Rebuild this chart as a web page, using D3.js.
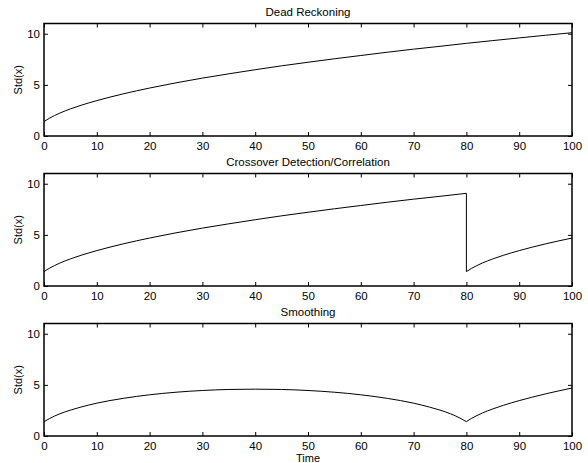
<!DOCTYPE html>
<html>
<head>
<meta charset="utf-8">
<script src="https://cdn.jsdelivr.net/npm/d3@7"></script>
<style>
  body { margin: 0; background: #fff; }
  text { font-family: "Liberation Sans", Arial, sans-serif; }
</style>
</head>
<body>
<script>
const width = 588;
const height = 463;

// panel titles
const titles = ["Dead Reckoning", "Crossover Detection/Correlation", "Smoothing"];
const xTicks = [0, 10, 20, 30, 40, 50, 60, 70, 80, 90, 100];
const yTicks = [0, 5, 10];

// time samples
const tGrow = [0, 1, 2, 3, 5, 7, 10, 15, 20, 25, 30, 35, 40, 45, 50, 55, 60, 65, 70, 75, 80];
const tTail = [80, 81, 82, 83, 85, 87, 90, 95, 100];
const tFull = [0, 1, 2, 3, 5, 7, 10, 15, 20, 25, 30, 35, 40, 45, 50, 55, 60, 65, 70, 75, 80, 85, 90, 95, 100];

// dead reckoning std, 0..100
const deadStd = [1.41, 1.73, 2.0, 2.24, 2.65, 3.0, 3.46, 4.12, 4.69, 5.2, 5.66, 6.08, 6.48,
                 6.86, 7.21, 7.55, 7.87, 8.19, 8.49, 8.77, 9.06, 9.33, 9.59, 9.85, 10.1];
// crossover: growth up to 80, then reset
const crossGrow = [1.41, 1.73, 2.0, 2.24, 2.65, 3.0, 3.46, 4.12, 4.69, 5.2, 5.66, 6.08, 6.48,
                   6.86, 7.21, 7.55, 7.87, 8.19, 8.49, 8.77, 9.06];
const crossTail = [1.41, 1.73, 2.0, 2.24, 2.65, 3.0, 3.46, 4.12, 4.69];
// smoothing: hump between 0 and 80, then same tail
const tSmooth = [0, 1, 2, 3, 5, 7, 10, 15, 20, 25, 30, 35, 40, 45, 50, 55, 60, 65, 70, 73, 75, 77, 78, 79, 80];
const smoothStd = [1.40, 1.69, 1.95, 2.17, 2.53, 2.83, 3.21, 3.68, 4.03, 4.28, 4.45, 4.55, 4.58,
                   4.55, 4.45, 4.28, 4.03, 3.68, 3.21, 2.83, 2.53, 2.17, 1.95, 1.69, 1.40];

const panels = [
  { title: titles[0], segs: [[tFull, deadStd]], drop: null },
  { title: titles[1], segs: [[tGrow, crossGrow], [tTail, crossTail]], drop: [80, 9.06, 1.41] },
  { title: titles[2], segs: [[tSmooth, smoothStd], [tTail, crossTail]], drop: null }
];

const svg = d3.select("body").append("svg").attr("width", width).attr("height", height);

const left = 44, right = 572, panelH = 112.5;
const tops = [23.5, 173.5, 323.5];

const x = d3.scaleLinear().domain([0, 100]).range([left, right]);

panels.forEach((p, i) => {
  const top = tops[i];
  const y = d3.scaleLinear().domain([0, 11]).range([top + panelH, top]);
  const g = svg.append("g");

  // inward ticks on all four sides
  g.append("g").attr("transform", `translate(0,${top + panelH})`)
    .call(d3.axisBottom(x).tickValues(xTicks).tickSizeInner(-4).tickSizeOuter(0).tickPadding(6));
  g.append("g").attr("transform", `translate(0,${top})`)
    .call(d3.axisTop(x).tickValues(xTicks).tickSizeInner(-4).tickSizeOuter(0).tickFormat(""));
  g.append("g").attr("transform", `translate(${left},0)`)
    .call(d3.axisLeft(y).tickValues(yTicks).tickSizeInner(-4).tickSizeOuter(0).tickPadding(4));
  g.append("g").attr("transform", `translate(${right},0)`)
    .call(d3.axisRight(y).tickValues(yTicks).tickSizeInner(-4).tickSizeOuter(0).tickFormat(""));

  g.selectAll(".domain").remove();
  g.selectAll(".tick line").attr("stroke", "#000");
  g.selectAll(".tick text").attr("fill", "#000").style("font-size", "11.5px");

  g.append("rect")
    .attr("x", left).attr("y", top)
    .attr("width", right - left).attr("height", panelH)
    .attr("fill", "none").attr("stroke", "#000").attr("stroke-width", 1.5);

  const line = d3.line()
    .x(d => x(d[0]))
    .y(d => y(d[1]))
    .curve(d3.curveMonotoneX);

  p.segs.forEach(s => {
    const pts = s[0].map((t, k) => [t, s[1][k]]);
    g.append("path").datum(pts)
      .attr("d", line)
      .attr("fill", "none").attr("stroke", "#000").attr("stroke-width", 1);
  });
  if (p.drop) {
    g.append("line")
      .attr("x1", x(p.drop[0])).attr("x2", x(p.drop[0]))
      .attr("y1", y(p.drop[1])).attr("y2", y(p.drop[2]))
      .attr("stroke", "#000").attr("stroke-width", 1);
  }

  g.append("text")
    .attr("x", (left + right) / 2).attr("y", top - 8)
    .attr("text-anchor", "middle").style("font-size", "11.5px")
    .text(p.title);

  g.append("text")
    .attr("transform", `translate(22,${top + panelH / 2}) rotate(-90)`)
    .attr("text-anchor", "middle").style("font-size", "11px")
    .text("Std(x)");
});

svg.append("text")
  .attr("x", (left + right) / 2).attr("y", 462)
  .attr("text-anchor", "middle").style("font-size", "11px")
  .text("Time");
</script>
</body>
</html>
